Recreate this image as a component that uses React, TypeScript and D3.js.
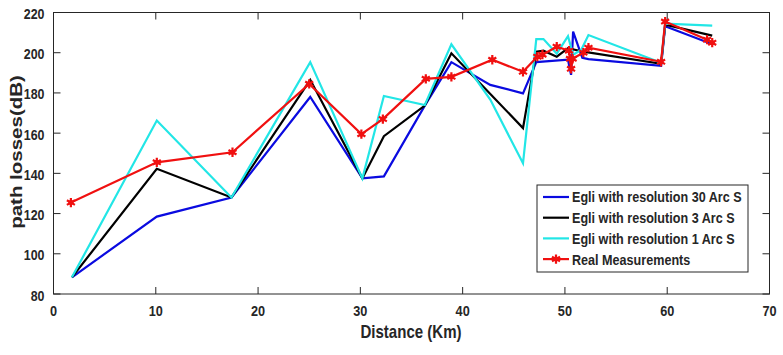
import React from "react";
import * as d3 from "d3";

const W = 783;
const H = 355;

const xTicks = [0, 10, 20, 30, 40, 50, 60, 70];
const yTicks = [80, 100, 120, 140, 160, 180, 200, 220];

const blueX = [1.8, 10.1, 17.4, 25.1, 30.2, 32.3, 36.3, 38.9, 42.7, 45.9, 47.2, 50.3, 50.6, 50.8, 51.7, 52.3, 59.4, 59.8, 64.3];
const blueY = [88.3, 118.5, 128, 178, 137.5, 138.5, 173.7, 195.3, 184, 179.8, 195.3, 196.5, 189, 210.5, 197.5, 196.8, 193.5, 213.2, 204.5];

const blackX = [1.8, 10.1, 17.4, 25.1, 30.2, 32.3, 36.3, 38.9, 42.8, 45.9, 47.2, 47.9, 49.2, 50.3, 51.8, 59.4, 59.8, 64.4];
const blackY = [88.3, 142.3, 128, 186.5, 137.5, 158.5, 173.7, 199.7, 179, 162.5, 200.5, 201, 198, 202.3, 200.5, 194.5, 214, 208.5];

const cyanX = [1.8, 10.1, 17.4, 25.1, 30.2, 32.3, 36.3, 38.9, 42.7, 45.9, 47.2, 47.9, 49.2, 50.3, 50.8, 51.6, 52.3, 59.4, 59.8, 64.4];
const cyanY = [88.3, 166.3, 128, 195.3, 137.5, 178.5, 174, 204.2, 176.7, 145, 206.8, 206.8, 199.5, 208.2, 199, 201.5, 208.8, 195, 214.5, 213.5];

const redX = [1.7, 10.1, 17.5, 25.0, 30.1, 32.2, 36.4, 38.9, 42.9, 45.9, 47.3, 47.8, 49.2, 50.4, 50.5, 50.6, 50.75, 51.8, 52.3, 59.4, 59.8, 63.9, 64.4];
const redY = [125.5, 145.5, 150.5, 184.5, 159.5, 167, 187, 188, 196.5, 190.5, 198, 199, 203, 201, 197, 192, 197, 200, 202.5, 195.5, 215.5, 206.5, 205];

const seriesNames = [
  "Egli with resolution 30 Arc S",
  "Egli with resolution 3 Arc S",
  "Egli with resolution 1 Arc S",
  "Real Measurements",
];
const seriesColors = ["#0a0ae0", "#000000", "#22e6e6", "#f01010"];

const FONT = "'Liberation Sans', Arial, sans-serif";
const AXC = "#262626";

function T({ x, y, sx = 1, sy = 1, anchor = "middle", size = 14, rotate = 0, children }: any) {
  return (
    <text
      transform={`translate(${x},${y}) scale(${sx},${sy}) rotate(${rotate})`}
      textAnchor={anchor}
      dominantBaseline="central"
      fontFamily={FONT}
      fontWeight="bold"
      fontSize={size}
      fill="#262626"
    >
      {children}
    </text>
  );
}

export default function App() {
  const x = d3.scaleLinear().domain([0, 70]).range([53.5, 769.5]);
  const y = d3.scaleLinear().domain([80, 220]).range([294, 12.5]);
  const line = d3
    .line<[number, number]>()
    .x((d) => x(d[0]))
    .y((d) => y(d[1]));

  const series = [
    { xs: blueX, ys: blueY },
    { xs: blackX, ys: blackY },
    { xs: cyanX, ys: cyanY },
    { xs: redX, ys: redY },
  ];
  const star = d3.symbol().type(d3.symbolAsterisk).size(60)()!;

  const [x0, x1] = x.range();
  const [yb, yt] = y.range();

  const lgX = 537;
  const lgY = 185;
  const lgW = 211;
  const lgH = 87;
  const rowH = 20.7;

  return (
    <svg
      width={W}
      height={H}
      style={{ position: "absolute", left: 0, top: 0, background: "#fff" }}
    >
      <rect x={0} y={0} width={W} height={H} fill="#fff" />
      {xTicks.map((t) => (
        <g key={"xt" + t}>
          <line x1={x(t)} x2={x(t)} y1={yb} y2={yb - 7} stroke={AXC} strokeWidth={1} />
          <line x1={x(t)} x2={x(t)} y1={yt} y2={yt + 7} stroke={AXC} strokeWidth={1} />
          <T x={x(t)} y={310.5} sx={0.82} size={15.5}>{t}</T>
        </g>
      ))}
      {yTicks.map((t) => (
        <g key={"yt" + t}>
          <line x1={x0} x2={x0 + 7} y1={y(t)} y2={y(t)} stroke={AXC} strokeWidth={1} />
          <line x1={x1} x2={x1 - 7} y1={y(t)} y2={y(t)} stroke={AXC} strokeWidth={1} />
          <T x={44.5} y={y(t) + 1} sx={0.8} size={15.5} anchor="end">{t}</T>
        </g>
      ))}
      {series.map((s, i) => {
        const pts = s.xs.map((v, j) => [v, s.ys[j]] as [number, number]);
        return (
          <g key={"s" + i}>
            <path d={line(pts)!} fill="none" stroke={seriesColors[i]} strokeWidth={2.2} strokeLinejoin="miter" />
            {i === 3 &&
              pts.map((p, j) => (
                <g key={j} transform={`translate(${x(p[0])},${y(p[1])})`}>
                  <path d={star} fill="none" stroke={seriesColors[i]} strokeWidth={2.2} />
                  <circle r={2.5} fill={seriesColors[i]} />
                </g>
              ))}
          </g>
        );
      })}
      <rect x={x0} y={yt} width={x1 - x0} height={yb - yt} fill="none" stroke={AXC} strokeWidth={1} />
      <T x={411} y={332} sx={0.86} size={17.5}>Distance (Km)</T>
      <T x={16} y={152} sx={0.82} rotate={-90} size={20.5}>path losses(dB)</T>
      <rect x={lgX} y={lgY} width={lgW} height={lgH} fill="#fff" stroke={AXC} strokeWidth={1} />
      {seriesNames.map((n, i) => {
        const cy = lgY + 12 + i * rowH;
        return (
          <g key={"lg" + i}>
            <line x1={543} x2={569} y1={cy} y2={cy} stroke={seriesColors[i]} strokeWidth={2.2} />
            {i === 3 && (
              <g transform={`translate(556,${cy})`}>
                <path d={star} fill="none" stroke={seriesColors[i]} strokeWidth={2.2} />
                <circle r={2.5} fill={seriesColors[i]} />
              </g>
            )}
            <T x={572} y={cy} sx={0.84} size={15} anchor="start">{n}</T>
          </g>
        );
      })}
    </svg>
  );
}
